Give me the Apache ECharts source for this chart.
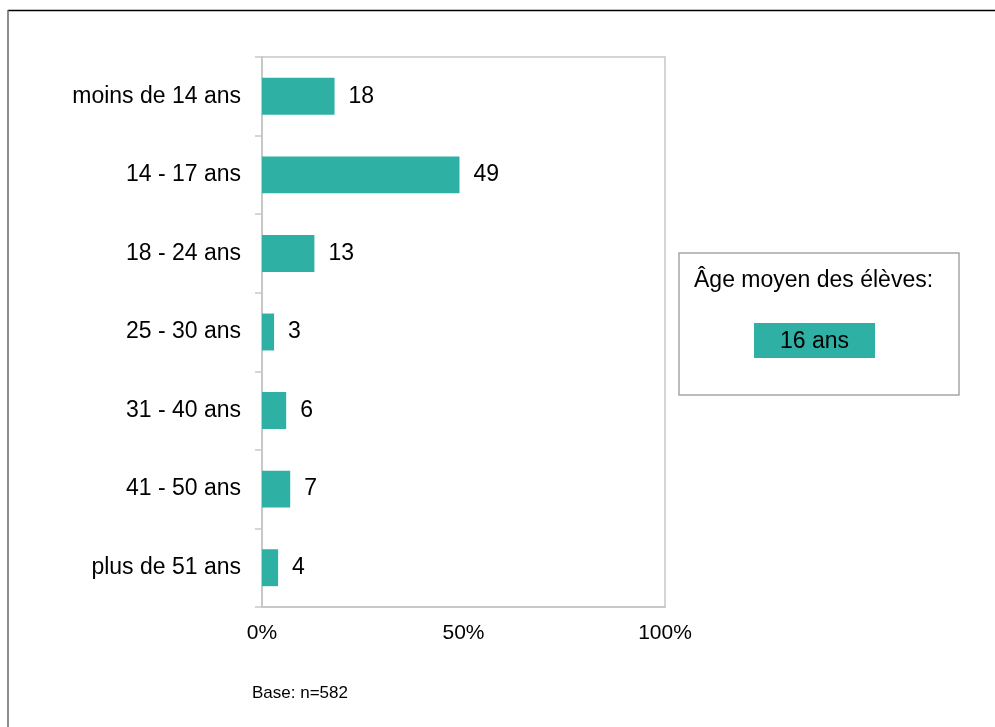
<!DOCTYPE html>
<html>
<head>
<meta charset="utf-8">
<script src="https://cdn.jsdelivr.net/npm/echarts@6/dist/echarts.min.js"></script>
<style>
html,body{margin:0;padding:0;background:#fff;}
#chart{width:995px;height:727px;}
</style>
</head>
<body>
<div id="chart"></div>
<script>
const categories = ['moins de 14 ans', '14 - 17 ans', '18 - 24 ans', '25 - 30 ans', '31 - 40 ans', '41 - 50 ans', 'plus de 51 ans'];
const values = [18, 49, 13, 3, 6, 7, 4];
const axisMin = 0, axisMax = 100, axisStep = 50;
const boxTitle = 'Âge moyen des élèves:';
const boxValue = '16 ans';
const baseNote = 'Base: n=582';

const FONT = '"Liberation Sans", Arial, sans-serif';
const TEAL = '#2EB0A4';
const chart = echarts.init(document.getElementById('chart'), null, {renderer: 'canvas'});
chart.setOption({
  animation: false,
  backgroundColor: '#fff',
  grid: {left: 262, right: 330, top: 57, bottom: 120, show: true, borderColor: '#c8c8c8', borderWidth: 1.5, containLabel: false},
  xAxis: {
    type: 'value', min: axisMin, max: axisMax, interval: axisStep,
    axisLabel: {formatter: '{value}%', fontFamily: FONT, fontSize: 21, color: '#000', margin: 16},
    axisLine: {show: true, lineStyle: {color: '#c8c8c8', width: 2}},
    axisTick: {show: false},
    splitLine: {show: false}
  },
  yAxis: {
    type: 'category', data: categories, inverse: true,
    axisLabel: {fontFamily: FONT, fontSize: 23, color: '#000', margin: 21, padding: [5, 0, 0, 0]},
    axisLine: {show: true, lineStyle: {color: '#c8c8c8', width: 2}},
    axisTick: {show: true, alignWithLabel: false, length: 7, lineStyle: {color: '#c8c8c8', width: 1.5}},
    splitLine: {show: false}
  },
  series: [{
    type: 'bar', data: values, barCategoryGap: '53%',
    itemStyle: {color: TEAL},
    label: {show: true, position: 'right', distance: 14, fontFamily: FONT, fontSize: 23, color: '#000', padding: [3, 0, 0, 0]}
  }],
  graphic: [
    {type: 'line', shape: {x1: 8, y1: 10.5, x2: 995, y2: 10.5}, style: {stroke: '#000', lineWidth: 1.5}},
    {type: 'line', shape: {x1: 8, y1: 10, x2: 8, y2: 727}, style: {stroke: '#666', lineWidth: 1.5}},
    {type: 'rect', shape: {x: 679, y: 253, width: 280, height: 142}, style: {fill: '#fff', stroke: '#a6a6a6', lineWidth: 1.5}},
    {type: 'text', x: 694, y: 281, style: {text: boxTitle, font: '23px ' + FONT, fill: '#000', textVerticalAlign: 'middle', verticalAlign: 'middle'}},
    {type: 'rect', shape: {x: 754, y: 323, width: 121, height: 35}, style: {fill: TEAL}},
    {type: 'text', x: 814.5, y: 342, style: {text: boxValue, font: '23px ' + FONT, fill: '#000', align: 'center', textAlign: 'center', verticalAlign: 'middle', textVerticalAlign: 'middle'}},
    {type: 'text', x: 252, y: 693, style: {text: baseNote, font: '17px ' + FONT, fill: '#000', verticalAlign: 'middle', textVerticalAlign: 'middle'}}
  ]
});
</script>
</body>
</html>
